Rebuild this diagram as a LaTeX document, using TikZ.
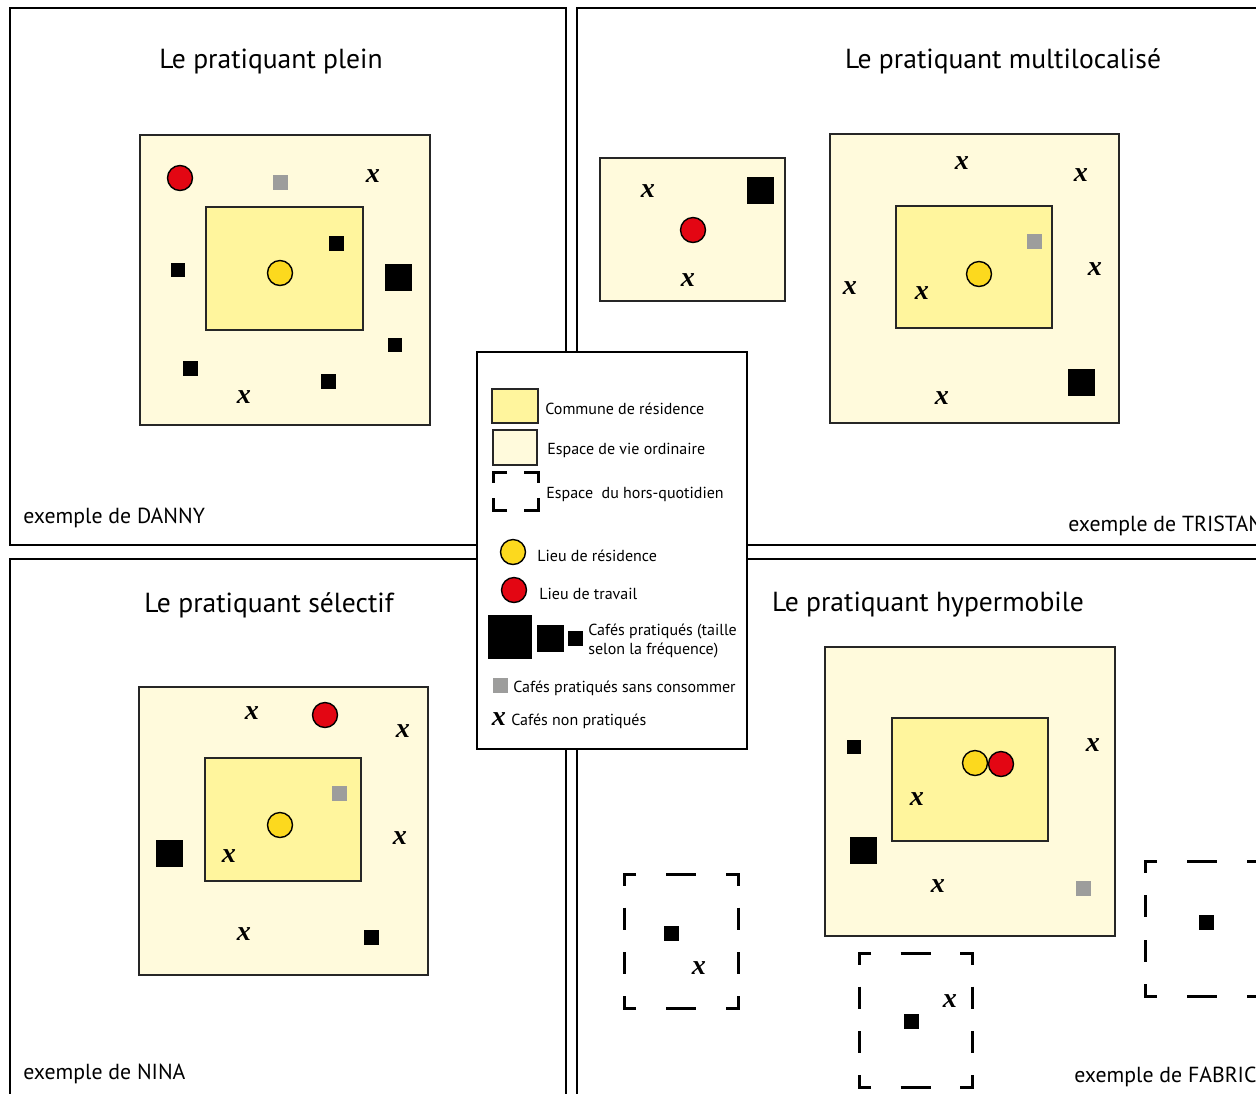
\documentclass[tikz,border=0pt]{standalone}
\usepackage{fontspec}
\setmainfont{PT Sans}
\newfontfamily\xfont{Liberation Serif}
\definecolor{cream}{RGB}{255,250,220}
\definecolor{paleyellow}{RGB}{255,245,157}
\definecolor{resyellow}{RGB}{252,217,30}
\definecolor{workred}{RGB}{227,6,19}
\definecolor{cafegray}{RGB}{157,157,156}
\newcommand{\hqbox}[4]{%
  \draw[hqline] ({#1+12},#2) -- (#1,#2) -- (#1,{#2+12});
  \draw[hqline] ({#3-12},#2) -- (#3,#2) -- (#3,{#2+12});
  \draw[hqline] ({#1+12},#4) -- (#1,#4) -- (#1,{#4-12});
  \draw[hqline] ({#3-12},#4) -- (#3,#4) -- (#3,{#4-12});
  \draw[hqline] ({(#1+#3)/2-15},#2) -- ({(#1+#3)/2+15},#2);
  \draw[hqline] ({(#1+#3)/2-15},#4) -- ({(#1+#3)/2+15},#4);
  \draw[hqline] (#1,{#2+(#4-#2)/3-11}) -- (#1,{#2+(#4-#2)/3+11});
  \draw[hqline] (#1,{#2+2*(#4-#2)/3-11}) -- (#1,{#2+2*(#4-#2)/3+11});
  \draw[hqline] (#3,{#2+(#4-#2)/3-11}) -- (#3,{#2+(#4-#2)/3+11});
  \draw[hqline] (#3,{#2+2*(#4-#2)/3-11}) -- (#3,{#2+2*(#4-#2)/3+11});
}
\begin{document}
\begin{tikzpicture}[x=0.02cm,y=-0.02cm,
  panel/.style={draw=black, line width=1.4pt},
  outerzone/.style={draw=black!85, fill=cream, line width=1.1pt},
  innerzone/.style={draw=black!85, fill=paleyellow, line width=1.1pt},
  res/.style={circle, draw=black, fill=resyellow, line width=0.8pt, minimum size=0.5cm, inner sep=0pt},
  work/.style={res, fill=workred},
  sq/.style={rectangle, fill=black, inner sep=0pt, minimum size=#1*0.02cm},
  sq/.default=15,
  gsq/.style={rectangle, fill=cafegray, inner sep=0pt, minimum size=0.3cm},
  nocafe/.style={font=\xfont\bfseries\itshape\fontsize{16}{16}\selectfont, inner sep=0pt},
  hqline/.style={line width=1.7pt},
  title/.style={font=\fontsize{15.7}{18}\selectfont, inner sep=0pt},
  example/.style={font=\fontsize{12.4}{14}\selectfont, inner sep=0pt, anchor=west},
  legtext/.style={font=\fontsize{9.1}{10.8}\selectfont, inner sep=0pt, anchor=west, align=left}
]
\useasboundingbox (0,0) rectangle (1256,1093);
\clip (0,0) rectangle (1256,1093);
\fill[white] (0,0) rectangle (1256,1093);

% panels
\draw[panel] (10,8) rectangle (566,545);
\draw[panel] (577,8) rectangle (1275,545);
\draw[panel] (10,559) rectangle (566,1110);
\draw[panel] (577,559) rectangle (1275,1110);

% titles
\node[title] (t1) at (271,61) {Le pratiquant plein};
\node[title] (t2) at (1003,61) {Le pratiquant multilocalisé};
\node[title] (t3) at (269,605) {Le pratiquant sélectif};
\node[title] (t4) at (928,605) {Le pratiquant hypermobile};
\node[example] (e1) at (23,518) {exemple de DANNY};
\node[example] (e2) at (1068,526) {exemple de TRISTAN};
\node[example] (e3) at (23,1074) {exemple de NINA};
\node[example] (e4) at (1074,1077) {exemple de FABRICE};

% ---- panel 1 : DANNY
\draw[outerzone] (140,135) rectangle (430,425);
\draw[innerzone] (206,207) rectangle (363,330);
\node[work] (d-w) at (180,178) {};
\node[gsq] (d-g) at (280,182) {};
\node[nocafe] (d-x1) at (373,176) {x};
\node[sq=14] (d-s1) at (178,270) {};
\node[res] (d-r) at (280,273) {};
\node[sq] (d-s2) at (336,243) {};
\node[sq=27] (d-s3) at (398,277) {};
\node[sq=14] (d-s4) at (395,345) {};
\node[sq] (d-s5) at (190,368) {};
\node[sq] (d-s6) at (328,381) {};
\node[nocafe] (d-x2) at (244,397) {x};

% ---- panel 2 : TRISTAN
\draw[outerzone] (600,158) rectangle (785,301);
\node[nocafe] (tr-x1) at (648,191) {x};
\node[sq=27] (tr-s1) at (760,190) {};
\node[work] (tr-w) at (693,230) {};
\node[nocafe] (tr-x2) at (688,280) {x};
\draw[outerzone] (830,134) rectangle (1119,423);
\draw[innerzone] (896,206) rectangle (1052,328);
\node[nocafe] (tr-x3) at (962,163) {x};
\node[nocafe] (tr-x4) at (1081,175) {x};
\node[gsq] (tr-g) at (1034,241) {};
\node[res] (tr-r) at (979,274) {};
\node[nocafe] (tr-x5) at (1095,269) {x};
\node[nocafe] (tr-x6) at (850,288) {x};
\node[nocafe] (tr-x7) at (922,293) {x};
\node[sq=27] (tr-s2) at (1081,382) {};
\node[nocafe] (tr-x8) at (942,398) {x};

% ---- panel 3 : NINA
\draw[outerzone] (139,687) rectangle (428,975);
\draw[innerzone] (205,758) rectangle (361,881);
\node[nocafe] (n-x1) at (252,713) {x};
\node[work] (n-w) at (325,715) {};
\node[nocafe] (n-x2) at (403,731) {x};
\node[gsq] (n-g) at (339,793) {};
\node[res] (n-r) at (280,825) {};
\node[sq=27] (n-s1) at (169,853) {};
\node[nocafe] (n-x3) at (229,856) {x};
\node[nocafe] (n-x4) at (400,838) {x};
\node[nocafe] (n-x5) at (244,934) {x};
\node[sq] (n-s2) at (371,937) {};

% ---- panel 4 : FABRICE
\draw[outerzone] (825,647) rectangle (1115,936);
\draw[innerzone] (892,718) rectangle (1048,841);
\node[sq=14] (f-s1) at (854,747) {};
\node[res] (f-r) at (975,763) {};
\node[work] (f-w) at (1001,764) {};
\node[nocafe] (f-x1) at (1093,745) {x};
\node[nocafe] (f-x2) at (917,799) {x};
\node[sq=27] (f-s2) at (863,850) {};
\node[nocafe] (f-x3) at (938,886) {x};
\node[gsq] (f-g) at (1083,888) {};
\hqbox{624}{874}{738}{1008}
\node[sq] (f-s3) at (671,933) {};
\node[nocafe] (f-x4) at (699,968) {x};
\hqbox{859}{953}{972}{1087}
\node[nocafe] (f-x5) at (950,1001) {x};
\node[sq] (f-s4) at (911,1021) {};
\hqbox{1145}{861}{1259}{996}
\node[sq] (f-s5) at (1206,922) {};

% ---- legend
\draw[panel, line width=1.2pt, fill=white] (477,352) rectangle (747,749);
\draw[innerzone] (492,389) rectangle (538,423);
\node[legtext] (l1) at (545,409) {Commune de résidence};
\draw[outerzone] (493,430) rectangle (537,465);
\node[legtext] (l2) at (547,450) {Espace de vie ordinaire};
\draw[hqline] (507,472) -- (493,472) -- (493,483);
\draw[hqline] (524,472) -- (538,472) -- (538,483);
\draw[hqline] (507,510) -- (493,510) -- (493,498);
\draw[hqline] (524,510) -- (538,510) -- (538,498);
\node[legtext] (l3) at (546,494) {Espace\ \ du hors-quotidien};
\node[res] (l-r) at (513,552) {};
\node[legtext] (l4) at (537,556) {Lieu de résidence};
\node[work] (l-w) at (514,590) {};
\node[legtext] (l5) at (539,594) {Lieu de travail};
\node[sq=44] (l-s1) at (510,637) {};
\node[sq=27] (l-s2) at (550.5,638.5) {};
\node[sq] (l-s3) at (575,638.5) {};
\node[legtext] (l6) at (588,640.5) {Cafés pratiqués (taille\\selon la fréquence)};
\node[gsq] (l-g) at (500,685.5) {};
\node[legtext] (l7) at (513,688) {Cafés pratiqués sans consommer};
\node[nocafe] (l-x) at (499,719) {x};
\node[legtext] (l8) at (511,721) {Cafés non pratiqués};
\end{tikzpicture}
\end{document}
